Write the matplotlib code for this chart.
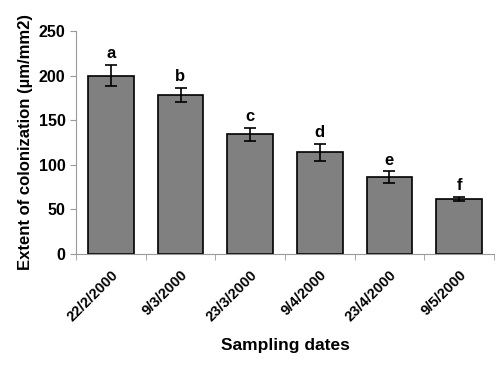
import matplotlib.pyplot as plt
import numpy as np

plt.rcParams['font.family'] = ['Liberation Sans', 'DejaVu Sans']
plt.rcParams['font.weight'] = 'bold'

dates = ['22/2/2000', '9/3/2000', '23/3/2000', '9/4/2000', '23/4/2000', '9/5/2000']
colonization = [200, 178.5, 134, 114, 86, 61.5]
errors = [12, 8, 7.5, 9.5, 6.5, 2.5]
letters = ['a', 'b', 'c', 'd', 'e', 'f']

fig = plt.figure(figsize=(5, 3.68), dpi=100)
ax = fig.add_axes([0.152, 0.31, 0.836, 0.606])

x = np.arange(len(dates))
ax.bar(x, colonization, width=0.66, color='#808080', edgecolor='black', linewidth=1.2,
       yerr=errors, capsize=4, error_kw={'elinewidth': 1.2, 'capthick': 1.2})
for xi, v, e, t in zip(x, colonization, errors, letters):
    ax.text(xi, v + e + 4, t, ha='center', va='bottom', fontsize=12, fontweight='bold')

ax.set_xlim(-0.5, len(dates) - 0.5)
ax.set_ylim(0, 250)
ax.set_yticks(range(0, 251, 50))
ax.set_xticks(x)
ax.set_xticklabels(dates, rotation=45, ha='right', rotation_mode='anchor', fontsize=10.5, fontweight='bold')
ax.set_xticks(np.arange(-0.5, len(dates), 1), minor=True)
ax.tick_params(axis='x', which='major', length=0, pad=10)
ax.tick_params(axis='x', which='minor', length=4, color='#999999')
ax.tick_params(axis='y', length=4, color='#999999', labelsize=11.5)
for lbl in ax.get_yticklabels():
    lbl.set_fontweight('bold')

for side in ['top', 'right']:
    ax.spines[side].set_visible(False)
for side in ['left', 'bottom']:
    ax.spines[side].set_color('#999999')

ax.set_ylabel('Extent of colonization (µm/mm2)', fontsize=12, fontweight='bold')
ax.set_xlabel('Sampling dates', fontsize=12.5, fontweight='bold', labelpad=10)

plt.savefig('out.png', dpi=100)
